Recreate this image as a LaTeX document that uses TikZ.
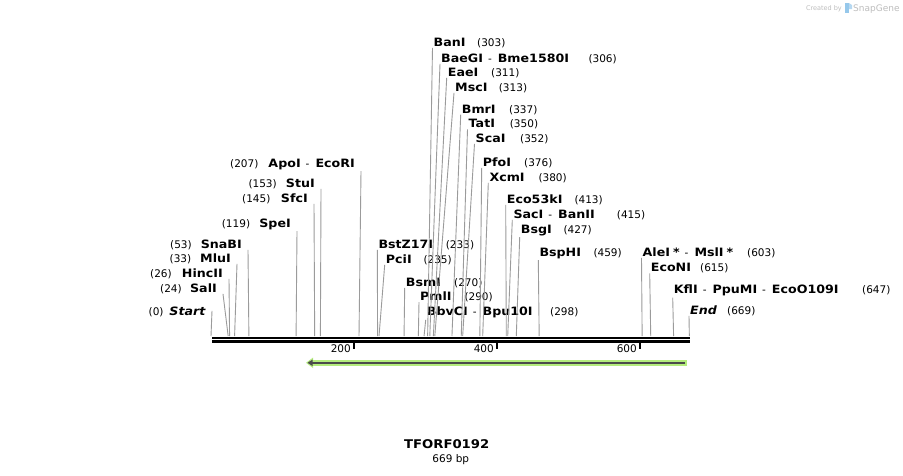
\documentclass[tikz,border=0pt]{standalone}
\usepackage{fontspec}
\setmainfont{DejaVu Sans}[BoldFeatures={FakeStretch=1.1},BoldItalicFeatures={FakeStretch=1.1}]
\usetikzlibrary{arrows.meta}

\definecolor{sitegray}{RGB}{155,155,155}
\definecolor{orfgreen}{RGB}{180,236,125}
\definecolor{orfdark}{RGB}{75,75,75}
\definecolor{brandgray}{RGB}{190,190,190}
\definecolor{brandblue}{RGB}{150,200,235}

\newcommand{\enzfont}{\fontsize{11.5}{13}\selectfont\bfseries}
\newcommand{\numfont}{\fontsize{10.5}{12}\selectfont\mdseries}
\newcommand{\cutsep}{{\numfont\hspace{5pt}-\hspace{6pt}}}

\begin{document}
\begin{tikzpicture}[x=1pt,y=-1pt,
    cutline/.style={draw=sitegray, line width=0.9pt},
    rcut/.style={anchor=base west, inner xsep=1pt, inner ysep=1.5pt, font=\enzfont},
    lcut/.style={anchor=base east, inner xsep=6pt, inner ysep=1.5pt, font=\enzfont},
    cutpos/.style={anchor=base west, inner sep=0pt, font=\numfont}]
    \useasboundingbox[fill=white] (0,0) rectangle (903,475);

    % sites on the top line of the map (0.715 px per bp)
    \foreach \p in {0,24,26,33,53,119,145,153,207,233,235,270,290,298,303,306,311,313,337,350,352,376,380,413,415,427,459,603,615,647,669}
        \coordinate (s\p) at ({211+0.715*\p},336);

    % backbone
    \draw[line width=1.8pt] (212,337.6) coordinate (axL) -- (690,337.6) coordinate (axR);
    \draw[line width=2.6pt] (212,341.3) -- (690,341.3);
    \draw[line width=1.5pt] (354.2,341) coordinate (t200) -- (354.2,349);
    \draw[line width=1.5pt] (497.2,341) coordinate (t400) -- (497.2,349);
    \draw[line width=1.5pt] (640.2,341) coordinate (t600) -- (640.2,349);
    \node[anchor=base east, inner sep=0, font=\numfont] (n200) at (351,352) {200};
    \node[anchor=base east, inner sep=0, font=\numfont] (n400) at (494,352) {400};
    \node[anchor=base east, inner sep=0, font=\numfont] (n600) at (637,352) {600};

    % ORF arrow
    \coordinate (orfR) at (687,362.8);
    \coordinate (orfL) at (306,362.8);
    \draw[orfgreen, line width=5.5pt, -{Triangle[length=7pt,width=10pt]}] (orfR) -- (orfL);
    \draw[orfdark, line width=2.2pt, shorten >=1.5pt, -{Triangle[length=5pt,width=6pt]}] ([xshift=-2pt]orfR) -- (orfL);

    % left side labels
    \node[lcut] (start) at (212,315) {\textit{Start}};
    \node[lcut] (salI) at (223,292) {SalI};
    \node[lcut] (hincII) at (229,277) {HincII};
    \node[lcut] (mluI) at (237,262) {MluI};
    \node[lcut] (snaBI) at (248,248) {SnaBI};
    \node[lcut] (speI) at (297,227) {SpeI};
    \node[lcut] (sfcI) at (314,202) {SfcI};
    \node[lcut] (stuI) at (321,187) {StuI};
    \node[lcut] (apoI) at (361,167) {ApoI\cutsep EcoRI};
    \node[cutpos] (startpos) at (148.5,315) {(0)};
    \node[cutpos] (salIpos) at (160,292) {(24)};
    \node[cutpos] (hincIIpos) at (150,277) {(26)};
    \node[cutpos] (mluIpos) at (169.5,262) {(33)};
    \node[cutpos] (snaBIpos) at (170,248) {(53)};
    \node[cutpos] (speIpos) at (221.7,227) {(119)};
    \node[cutpos] (sfcIpos) at (242,202) {(145)};
    \node[cutpos] (stuIpos) at (248.3,187) {(153)};
    \node[cutpos] (apoIpos) at (230,167) {(207)};
    \draw[cutline] (start.east) -- (s0);
    \draw[cutline] (salI.south east) -- (s24);
    \draw[cutline] (hincII.south east) -- (s26);
    \draw[cutline] (mluI.south east) -- (s33);
    \draw[cutline] (snaBI.south east) -- (s53);
    \draw[cutline] (speI.south east) -- (s119);
    \draw[cutline] (sfcI.south east) -- (s145);
    \draw[cutline] (stuI.south east) -- (s153);
    \draw[cutline] (apoI.south east) -- (s207);

    % right side labels
    \node[rcut] (bstZ17I) at (377.3,248) {BstZ17I};
    \node[rcut] (pciI) at (384.7,263) {PciI};
    \node[rcut] (bsmI) at (404.7,286) {BsmI};
    \node[rcut] (pmlI) at (419,300.5) {PmlI};
    \node[rcut] (bbvCI) at (425.7,315.7) {BbvCI\cutsep Bpu10I};
    \node[rcut] (banI) at (432.5,46) {BanI};
    \node[rcut] (baeGI) at (440,62) {BaeGI\cutsep Bme1580I};
    \node[rcut] (eaeI) at (446.7,76) {EaeI};
    \node[rcut] (mscI) at (454,91) {MscI};
    \node[rcut] (bmrI) at (460.7,113) {BmrI};
    \node[rcut] (tatI) at (467.5,127.5) {TatI};
    \node[rcut] (scaI) at (474.5,142) {ScaI};
    \node[rcut] (pfoI) at (481.7,166) {PfoI};
    \node[rcut] (xcmI) at (488.3,181) {XcmI};
    \node[rcut] (eco53kI) at (505.7,203) {Eco53kI};
    \node[rcut] (sacI) at (512.3,218) {SacI\cutsep BanII};
    \node[rcut] (bsgI) at (519.7,233) {BsgI};
    \node[rcut] (bspHI) at (538.3,256) {BspHI};
    \node[rcut] (aleI) at (641.5,256) {AleI\hspace{3pt}*\cutsep MslI\hspace{3pt}*};
    \node[rcut] (ecoNI) at (649.7,271.5) {EcoNI};
    \node[rcut] (kflI) at (672.7,293.5) {KflI\cutsep PpuMI\cutsep EcoO109I};
    \node[rcut] (end) at (689,314) {\textit{End}};
    \node[cutpos] (bstZ17Ipos) at (445.7,248) {(233)};
    \node[cutpos] (pciIpos) at (423.3,263) {(235)};
    \node[cutpos] (bsmIpos) at (454,286) {(270)};
    \node[cutpos] (pmlIpos) at (464.3,300.5) {(290)};
    \node[cutpos] (bbvCIpos) at (550,315.7) {(298)};
    \node[cutpos] (banIpos) at (477,46) {(303)};
    \node[cutpos] (baeGIpos) at (588.3,62) {(306)};
    \node[cutpos] (eaeIpos) at (491,76) {(311)};
    \node[cutpos] (mscIpos) at (498.7,91) {(313)};
    \node[cutpos] (bmrIpos) at (509,113) {(337)};
    \node[cutpos] (tatIpos) at (509.7,127.5) {(350)};
    \node[cutpos] (scaIpos) at (520,142) {(352)};
    \node[cutpos] (pfoIpos) at (524,166) {(376)};
    \node[cutpos] (xcmIpos) at (538.3,181) {(380)};
    \node[cutpos] (eco53kIpos) at (574.3,203) {(413)};
    \node[cutpos] (sacIpos) at (616.7,218) {(415)};
    \node[cutpos] (bsgIpos) at (563.3,233) {(427)};
    \node[cutpos] (bspHIpos) at (593.3,256) {(459)};
    \node[cutpos] (aleIpos) at (747,256) {(603)};
    \node[cutpos] (ecoNIpos) at (700,271.5) {(615)};
    \node[cutpos] (kflIpos) at (862,293.5) {(647)};
    \node[cutpos] (endpos) at (727,314) {(669)};
    \draw[cutline] (bstZ17I.south west) -- (s233);
    \draw[cutline] (pciI.south west) -- (s235);
    \draw[cutline] (bsmI.south west) -- (s270);
    \draw[cutline] (pmlI.south west) -- (s290);
    \draw[cutline] (bbvCI.south west) -- (s298);
    \draw[cutline] (banI.south west) -- (s303);
    \draw[cutline] (baeGI.south west) -- (s306);
    \draw[cutline] (eaeI.south west) -- (s311);
    \draw[cutline] (mscI.south west) -- (s313);
    \draw[cutline] (bmrI.south west) -- (s337);
    \draw[cutline] (tatI.south west) -- (s350);
    \draw[cutline] (scaI.south west) -- (s352);
    \draw[cutline] (pfoI.south west) -- (s376);
    \draw[cutline] (xcmI.south west) -- (s380);
    \draw[cutline] (eco53kI.south west) -- (s413);
    \draw[cutline] (sacI.south west) -- (s415);
    \draw[cutline] (bsgI.south west) -- (s427);
    \draw[cutline] (bspHI.south west) -- (s459);
    \draw[cutline] (aleI.south west) -- (s603);
    \draw[cutline] (ecoNI.south west) -- (s615);
    \draw[cutline] (kflI.south west) -- (s647);
    \draw[cutline] (end.south west) -- (s669);

    % name and length
    \node[anchor=base, inner sep=0, font=\fontsize{12}{14}\selectfont\bfseries] (title) at (446.7,448) {TFORF0192};
    \node[anchor=base, inner sep=0, font=\numfont] (bp) at (450.8,462.5) {669 bp};

    % brand mark
    \node[anchor=base east, inner sep=0, text=brandgray, font=\fontsize{6.5}{7}\selectfont] (created) at (842,10) {Created by};
    \fill[brandblue] (845,3) rectangle (849,13);
    \fill[brandblue!70] (849,3) -- (852,5) -- (852,9) -- (849,9) -- cycle;
    \node[anchor=base west, inner sep=0, text=brandgray, font=\fontsize{9}{10}\selectfont] (snapgene) at (853,11) {SnapGene};
\end{tikzpicture}
\end{document}
